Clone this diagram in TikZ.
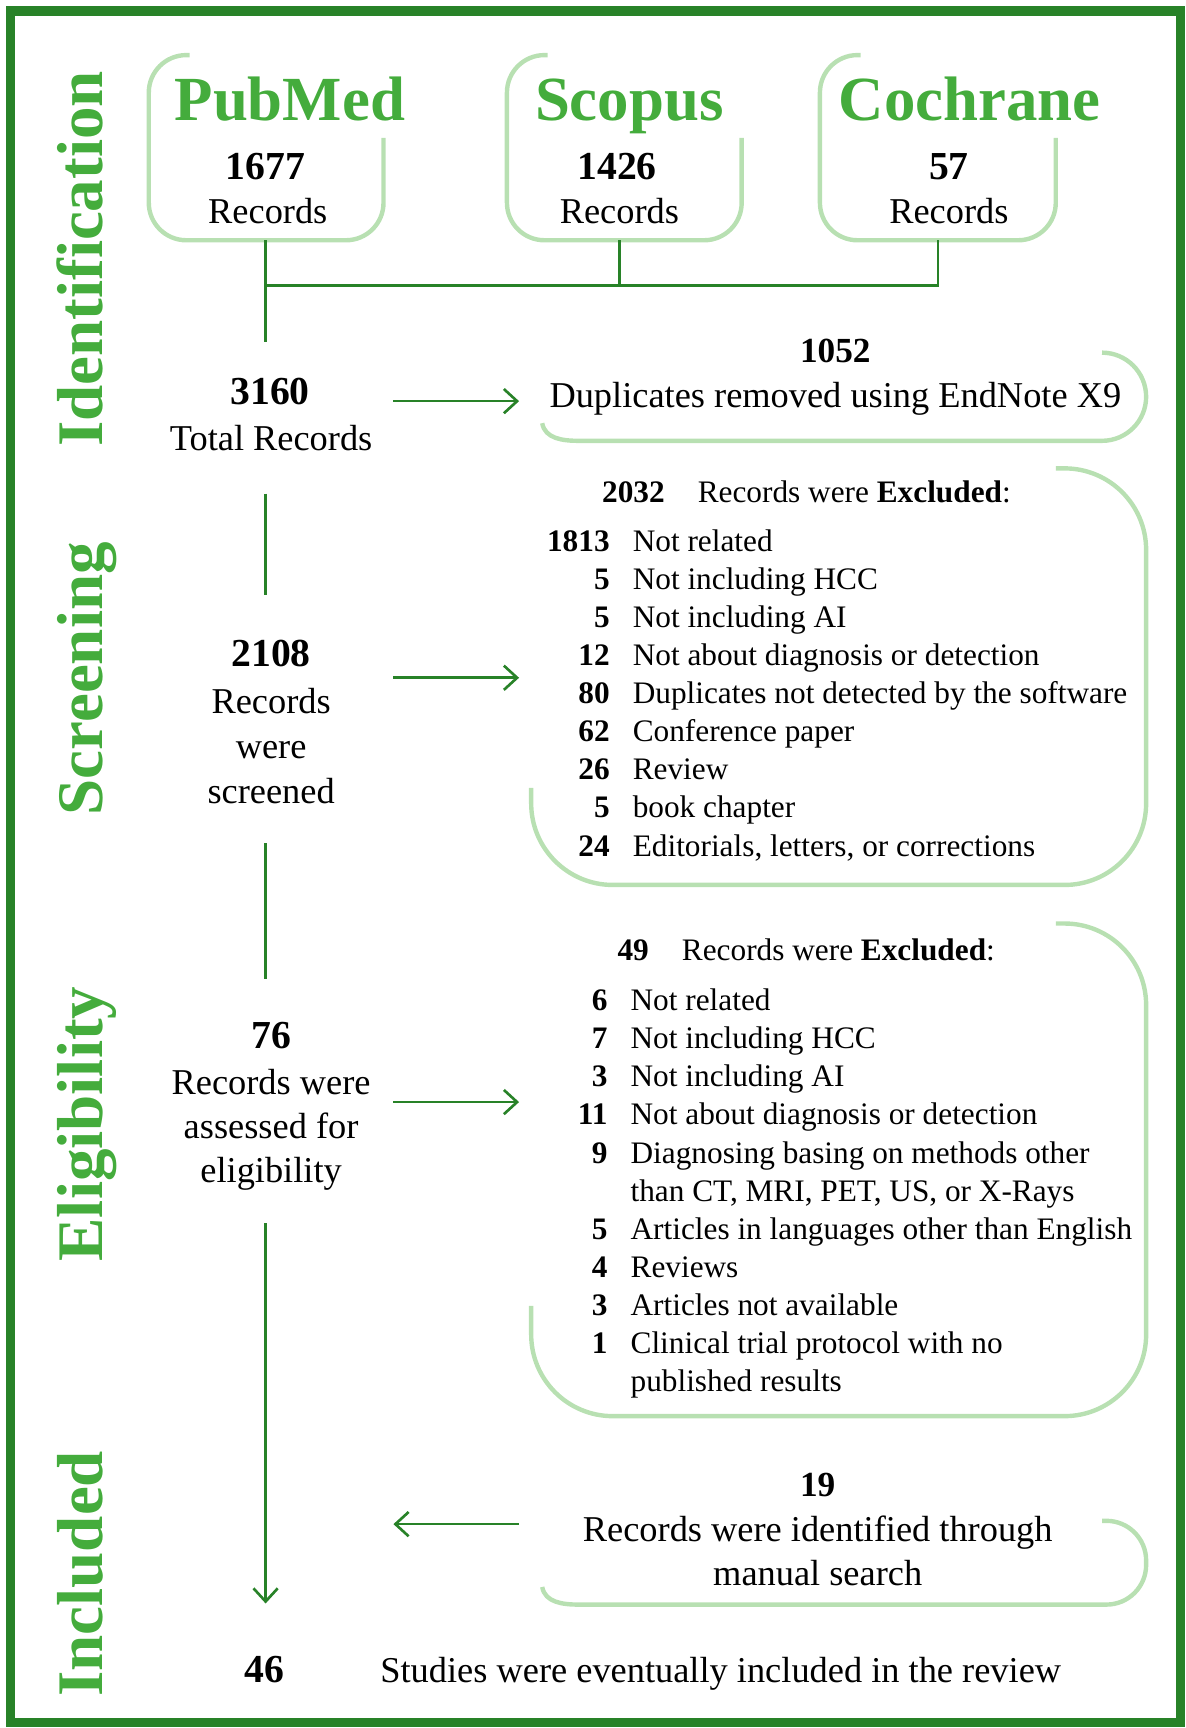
\documentclass[tikz,border=0pt]{standalone}
\usepackage{fontspec}
\setmainfont{Liberation Serif}
\usepackage{array}
\usetikzlibrary{arrows.meta}
\definecolor{framegreen}{RGB}{40,130,40}
\definecolor{stagegreen}{RGB}{68,172,60}
\definecolor{boxgreen}{RGB}{184,224,178}

\begin{document}
\begin{tikzpicture}[x=0.5pt,y=-0.5pt,
  stage/.style={rotate=90,anchor=base,text=stagegreen,font=\fontsize{29.5}{32}\selectfont\bfseries},
  source/.style={anchor=base,text=stagegreen,font=\fontsize{28.5}{30}\selectfont\bfseries},
  count/.style={anchor=base,inner sep=0pt,font=\fontsize{18}{20}\selectfont\bfseries},
  small count/.style={count,font=\fontsize{16}{18}\selectfont\bfseries},
  plain/.style={anchor=base,inner sep=0pt,align=center,font=\fontsize{16.5}{20.5}\selectfont},
  list/.style={anchor=base west,inner sep=0pt,font=\fontsize{14.2}{17.3}\selectfont},
  flow/.style={draw=framegreen,line width=1.2pt},
  arrow/.style={flow,-{Straight Barb[length=6pt,width=11pt]}},
  openbox/.style={draw=boxgreen,line width=2pt}]

  \useasboundingbox (0,0) rectangle (1076,1568);
  \draw[framegreen,line width=4.2pt] (9.5,10) rectangle (1071,1563);

  \node[stage] (idlab) at (93,235) {Identification};
  \node[stage] (scrlab) at (93,616) {Screening};
  \node[stage] (eliglab) at (93,1020) {Eligibility};
  \node[stage] (incllab) at (93,1428) {Included};

  \draw[openbox,rounded corners=17pt] (172,50) -| (135,218) -| (348,125);
  \draw[openbox,rounded corners=17pt] (497,50) -| (460,218) -| (673,125);
  \draw[openbox,rounded corners=17pt] (781,50) -| (744,218) -| (958,125);

  \node[source] (pubmed) at (263,109) {PubMed};
  \node[count] (pmn) at (241,163) {1677};
  \node[plain] (pmr) at (243,203) {Records};
  \node[source] (scopus) at (571,109) {Scopus};
  \node[count] (scn) at (560,163) {1426};
  \node[plain] (scr) at (562,203) {Records};
  \node[source] (cochrane) at (880,109) {Cochrane};
  \node[count] (con) at (861,163) {57};
  \node[plain] (cor) at (861,203) {Records};

  \coordinate (pmfoot) at (241,218);
  \coordinate (scfoot) at (562,218);
  \coordinate (cofoot) at (851,218);
  \coordinate (pmjoin) at (241,259);
  \coordinate (scjoin) at (562,259);
  \coordinate (trunk) at (241,310);

  \node[count] (total) at (245,367) {3160};
  \node[plain] (totaltxt) at (246,409) {Total Records};

  \draw[openbox] (492,384) to[out=-80,in=180] (525,400) [rounded corners=20pt] -| (1040,320) -- (1000,320);
  \node[small count] (dupn) at (758,329) {1052};
  \node[plain] (duptxt) at (758,370) {Duplicates removed using EndNote X9};

  \node[count] (screen) at (246,605) {2108};
  \node[plain] (screentxt) at (246,729) {Records\\were\\screened};

  \draw[openbox,rounded corners=37pt] (958,425) -| (1040,803) -| (482,715);
  \node[list] (scrhead) at (546,456) {\textbf{2032}\hspace{15pt}Records were \textbf{Excluded}:};
  \node[list] (scrlist) at (496,500) {\begin{tabular}[t]{@{}>{\bfseries}r@{\hspace{10.5pt}}l@{}}
    1813 & Not related\\
    5 & Not including HCC\\
    5 & Not including AI\\
    12 & Not about diagnosis or detection\\
    80 & Duplicates not detected by the software\\
    62 & Conference paper\\
    26 & Review\\
    5 & book chapter\\
    24 & Editorials, letters, or corrections
  \end{tabular}};

  \node[count] (elig) at (246,951) {76};
  \node[plain,font=\fontsize{16.5}{20}\selectfont] (eligtxt) at (246,1073) {Records were\\assessed for\\eligibility};

  \draw[openbox,rounded corners=37pt] (958,838) -| (1040,1285) -| (482,1185);
  \node[list] (elighead) at (560,872) {\textbf{49}\hspace{15pt}Records were \textbf{Excluded}:};
  \node[list] (eliglist) at (524,917) {\begin{tabular}[t]{@{}>{\bfseries}r@{\hspace{10.5pt}}l@{}}
    6 & Not related\\
    7 & Not including HCC\\
    3 & Not including AI\\
    11 & Not about diagnosis or detection\\
    9 & Diagnosing basing on methods other\\
      & than CT, MRI, PET, US, or X-Rays\\
    5 & Articles in languages other than English\\
    4 & Reviews\\
    3 & Articles not available\\
    1 & Clinical trial protocol with no\\
      & published results
  \end{tabular}};

  \draw[openbox] (492,1440) to[out=-80,in=180] (525,1456) [rounded corners=18pt] -| (1040,1380) -- (1000,1380);
  \node[small count] (mann) at (742,1358) {19};
  \node[plain,font=\fontsize{16.5}{20}\selectfont] (mantxt) at (742,1439) {Records were identified through\\manual search};

  \node[count] (incl) at (240,1527) {46};
  \node[plain] (incltxt) at (654,1527) {Studies were eventually included in the review};

  \coordinate (d1) at (357,364);  \coordinate (d2) at (471,364);
  \coordinate (s1) at (357,615);  \coordinate (s2) at (471,615);
  \coordinate (e1) at (357,1000); \coordinate (e2) at (471,1000);
  \coordinate (m1) at (471,1383); \coordinate (m2) at (357,1383);
  \coordinate (v1) at (241,448);  \coordinate (v2) at (241,540);
  \coordinate (v3) at (241,765);  \coordinate (v4) at (241,888);
  \coordinate (v5) at (241,1110); \coordinate (v6) at (241,1455);

  \draw[flow] (pmfoot) -- (trunk);
  \draw[flow] (scfoot) -- (scjoin);
  \draw[flow] (cofoot) |- (pmjoin);
  \draw[flow] (v1) -- (v2);
  \draw[flow] (v3) -- (v4);
  \draw[arrow] (d1) -- (d2);
  \draw[arrow] (s1) -- (s2);
  \draw[arrow] (e1) -- (e2);
  \draw[arrow] (m1) -- (m2);
  \draw[arrow] (v5) -- (v6);
\end{tikzpicture}
\end{document}
